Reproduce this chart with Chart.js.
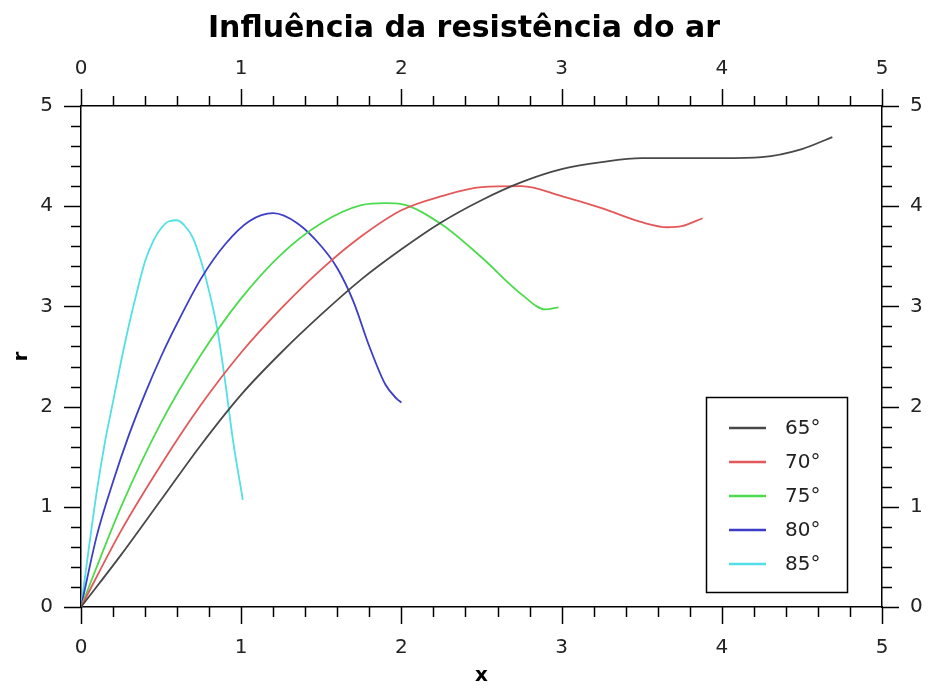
<!DOCTYPE html>
<html lang="pt">
<head>
<meta charset="UTF-8">
<title>Influência da resistência do ar</title>
<script src="https://cdn.jsdelivr.net/npm/chart.js"></script>
<style>
  html, body { margin: 0; padding: 0; background: #fff; }
  #wrap { width: 928px; height: 688px; position: relative; }
</style>
</head>
<body>
<div id="wrap"><canvas id="myChart"></canvas></div>
<script>
// values
const angles = ['65°', '70°', '75°', '80°', '85°'];
const colors = ['#484848', '#e35858', '#4cdb4c', '#3d3dc8', '#52e0e6'];

const x65 = [0, 0.25, 0.5, 0.75, 1, 1.25, 1.5, 1.75, 2, 2.25, 2.5, 2.75, 3, 3.25, 3.5, 3.75, 4, 4.25, 4.5, 4.69];
const r65 = [0, 0.52, 1.07, 1.62, 2.12, 2.54, 2.92, 3.27, 3.57, 3.84, 4.06, 4.24, 4.37, 4.44, 4.48, 4.48, 4.48, 4.49, 4.57, 4.69];

const x70 = [0, 0.25, 0.5, 0.75, 1, 1.25, 1.5, 1.75, 2, 2.25, 2.5, 2.75, 3, 3.25, 3.5, 3.66, 3.75, 3.88];
const r70 = [0, 0.76, 1.42, 2.02, 2.54, 2.98, 3.37, 3.7, 3.96, 4.1, 4.19, 4.2, 4.1, 3.98, 3.84, 3.79, 3.8, 3.88];

const x75 = [0, 0.25, 0.5, 0.75, 1, 1.25, 1.5, 1.75, 1.9, 2, 2.25, 2.5, 2.75, 2.9, 2.98];
const r75 = [0, 1.0, 1.84, 2.52, 3.08, 3.52, 3.83, 4.01, 4.03, 4.02, 3.82, 3.49, 3.12, 2.97, 2.99];

const x80 = [0, 0.1, 0.2, 0.3, 0.4, 0.5, 0.6, 0.75, 0.9, 1.05, 1.2, 1.35, 1.5, 1.6, 1.7, 1.8, 1.9, 1.97, 2.0];
const r80 = [0, 0.72, 1.25, 1.72, 2.13, 2.5, 2.83, 3.28, 3.62, 3.85, 3.93, 3.83, 3.6, 3.38, 3.05, 2.6, 2.22, 2.08, 2.04];

const x85 = [0, 0.05, 0.1, 0.15, 0.2, 0.25, 0.3, 0.35, 0.4, 0.45, 0.5, 0.55, 0.6, 0.65, 0.7, 0.75, 0.8, 0.85, 0.9, 0.95, 1.01];
const r85 = [0, 0.6, 1.17, 1.65, 2.05, 2.45, 2.82, 3.15, 3.45, 3.65, 3.78, 3.85, 3.86, 3.8, 3.68, 3.45, 3.15, 2.78, 2.25, 1.65, 1.07];

const xTicks = [0, 1, 2, 3, 4, 5];
const rTicks = [0, 1, 2, 3, 4, 5];

const xs = [x65, x70, x75, x80, x85];
const rs = [r65, r70, r75, r80, r85];

const FONT = 'DejaVu Sans';

// minor/major ticks drawn outward on every side of the box
const tickMarks = {
  id: 'tickMarks',
  afterDraw(chart) {
    const ctx = chart.ctx;
    ctx.save();
    ctx.strokeStyle = '#000';
    ctx.lineWidth = 1.5;
    ['x', 'x2', 'y', 'y2'].forEach(id => {
      const s = chart.scales[id];
      for (let i = 0; i <= 25; i++) {
        const v = i * 0.2;
        const major = i % 5 === 0;
        const len = major ? 17 : 10;
        const p = Math.round(s.getPixelForValue(v)) + 0.5;
        ctx.beginPath();
        if (id === 'x') { ctx.moveTo(p, s.top); ctx.lineTo(p, s.top + len); }
        if (id === 'x2') { ctx.moveTo(p, s.bottom); ctx.lineTo(p, s.bottom - len); }
        if (id === 'y') { ctx.moveTo(s.right, p); ctx.lineTo(s.right - len, p); }
        if (id === 'y2') { ctx.moveTo(s.left, p); ctx.lineTo(s.left + len, p); }
        ctx.stroke();
      }
    });
    ctx.restore();
  }
};

// boxed legend in the lower right of the plot
const boxLegend = {
  id: 'boxLegend',
  afterDraw(chart) {
    const ctx = chart.ctx;
    const a = chart.chartArea;
    const w = 141, h = 195;
    const left = a.right - 35 - w;
    const top = a.bottom - 15 - h;
    ctx.save();
    ctx.fillStyle = '#fff';
    ctx.fillRect(left, top, w, h);
    ctx.strokeStyle = '#000';
    ctx.lineWidth = 1.5;
    ctx.strokeRect(left + 0.5, top + 0.5, w, h);
    ctx.font = '20px "' + FONT + '"';
    ctx.textBaseline = 'middle';
    ctx.textAlign = 'left';
    chart.data.datasets.forEach((ds, i) => {
      const y = top + 31 + i * 34;
      ctx.strokeStyle = ds.borderColor;
      ctx.lineWidth = 2.5;
      ctx.beginPath();
      ctx.moveTo(left + 23, y);
      ctx.lineTo(left + 60, y);
      ctx.stroke();
      ctx.fillStyle = '#222';
      ctx.fillText(ds.label, left + 79, y + 1);
    });
    ctx.restore();
  }
};

const datasets = angles.map((label, i) => ({
  label: label,
  data: xs[i].map((x, j) => ({ x: x, y: rs[i][j] })),
  borderColor: colors[i],
  backgroundColor: colors[i],
  borderWidth: 1.8,
  pointRadius: 0,
  showLine: true,
  cubicInterpolationMode: 'monotone',
  fill: false
}));

function axis(position, width, height, title, pad, titlePad) {
  return {
    type: 'linear',
    position: position,
    min: 0,
    max: 5,
    afterBuildTicks: s => {
      const list = (position === 'left' || position === 'right') ? rTicks : xTicks;
      s.ticks = list.map(v => ({ value: v }));
    },
    afterFit: s => {
      if (width !== null) s.width = width;
      if (height !== null) s.height = height;
    },
    grid: { display: false, drawTicks: false },
    border: { display: true, color: '#000', width: 1.5 },
    ticks: {
      color: '#222',
      padding: pad,
      maxRotation: 0,
      font: { family: FONT, size: 20 }
    },
    title: title ? {
      display: true,
      text: title,
      color: '#000',
      padding: titlePad,
      font: { family: FONT, size: 20, weight: 'bold' }
    } : { display: false }
  };
}

new Chart(document.getElementById('myChart').getContext('2d'), {
  type: 'scatter',
  data: { datasets: datasets },
  options: {
    responsive: true,
    maintainAspectRatio: false,
    animation: false,
    layout: { padding: 0 },
    scales: {
      x: axis('bottom', null, 81, 'x', 29, 0),
      x2: axis('top', null, 55, null, 25, 0),
      y: axis('left', 81, null, 'r', 28, { top: 10, bottom: 0 }),
      y2: axis('right', 46, null, null, 28, 0)
    },
    plugins: {
      legend: { display: false },
      tooltip: { enabled: false },
      title: {
        display: true,
        text: 'Influência da resistência do ar',
        color: '#000',
        font: { family: FONT, size: 30, weight: 'bold' },
        padding: { top: 11, bottom: 4 }
      }
    }
  },
  plugins: [tickMarks, boxLegend]
});
</script>
</body>
</html>
